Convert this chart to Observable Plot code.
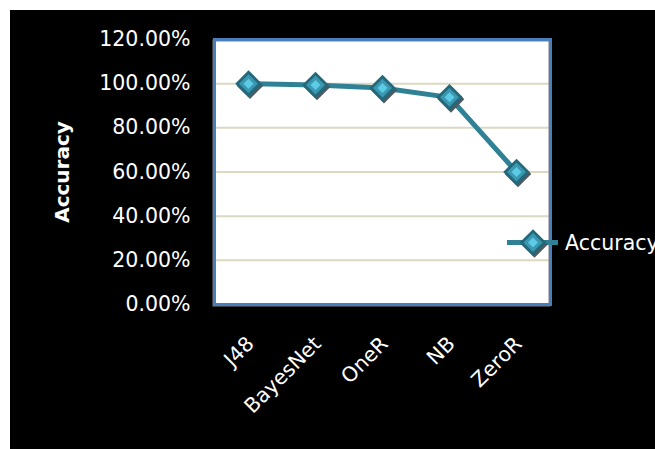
<!DOCTYPE html>
<html>
<head>
<meta charset="utf-8">
<script src="https://cdn.jsdelivr.net/npm/d3@7"></script>
<script src="https://cdn.jsdelivr.net/npm/@observablehq/plot@0.6"></script>
<style>
  html, body { margin: 0; padding: 0; background: #ffffff; }
  #chart { position: absolute; left: 10px; top: 10px; }
</style>
</head>
<body>
<div id="chart"></div>
<script>
// Classifier accuracy by model
const models = ["J48", "BayesNet", "OneR", "NB", "ZeroR"];
const accuracy = [1.0, 0.994, 0.98, 0.938, 0.60];
const yTicks = [0, 0.2, 0.4, 0.6, 0.8, 1.0, 1.2];
const gridTicks = [0.2, 0.4, 0.6, 0.8, 1.0];
const seriesName = "Accuracy";

const data = models.map((m, i) => ({model: m, value: accuracy[i]}));

const W = 645, H = 439;
const mL = 204, mR = 105, mT = 29, mB = 145;

const lineColor = "#2f8196";
const markerDark = "#23687b";
const markerMid = "#3b98b1";
const markerLight = "#5dcbe6";
const shadow = "#4d5a60";

const plot = Plot.plot({
  width: W,
  height: H,
  marginLeft: mL,
  marginRight: mR,
  marginTop: mT,
  marginBottom: mB,
  style: {background: "#000000", color: "#ffffff", fontFamily: "DejaVu Sans"},
  x: {type: "point", domain: models, padding: 0.5, axis: null},
  y: {domain: [0, 1.2], axis: null},
  marks: [
    Plot.frame({fill: "#ffffff"}),
    Plot.ruleY(gridTicks, {stroke: "#ddd8c0", strokeWidth: 2}),
    Plot.frame({stroke: "#7f7f7f", strokeWidth: 2, dx: -1, dy: 1}),
    Plot.frame({stroke: "#4a7ebb", strokeWidth: 3}),
    Plot.axisY(yTicks, {
      tickSize: 0, tickPadding: 24, fontSize: 20.5, fill: "#ffffff",
      tickFormat: d3.format(".2%"), label: null
    }),
    Plot.text([seriesName], {
      frameAnchor: "left", dx: -152, rotate: -90, textAnchor: "middle",
      fontWeight: "bold", fontSize: 20, fill: "#ffffff"
    }),
    Plot.text(models, {
      x: d => d, frameAnchor: "bottom", dy: 36, dx: 2, rotate: -45,
      textAnchor: "end", lineAnchor: "middle", fontSize: 20.5, fill: "#ffffff"
    }),
    Plot.line(data, {x: "model", y: "value", stroke: lineColor, strokeWidth: 5}),
    Plot.dot(data, {x: "model", y: "value", symbol: "diamond2", r: 12, fill: shadow, dx: 1.5, dy: 2}),
    Plot.dot(data, {x: "model", y: "value", symbol: "diamond2", r: 12, fill: markerDark}),
    Plot.dot(data, {x: "model", y: "value", symbol: "diamond2", r: 8.5, fill: markerMid}),
    Plot.dot(data, {x: "model", y: "value", symbol: "diamond2", r: 4.5, fill: markerLight})
  ]
});

// Legend entry: line sample with marker, then series name
const svg = d3.select(plot);
const fx = W - mR - 17;
const fy = (mT + (H - mB)) / 2 + 71;
const lg = svg.append("g").attr("transform", `translate(${fx},${fy})`);
lg.append("line").attr("x1", -26).attr("x2", 25).attr("y1", 0).attr("y2", 0)
  .attr("stroke", lineColor).attr("stroke-width", 5);
const sym = s => d3.symbol(d3.symbolDiamond2, s * s * Math.PI)();
lg.append("path").attr("d", sym(12)).attr("fill", shadow).attr("transform", "translate(1.5,2)");
lg.append("path").attr("d", sym(12)).attr("fill", markerDark);
lg.append("path").attr("d", sym(8.5)).attr("fill", markerMid);
lg.append("path").attr("d", sym(4.5)).attr("fill", markerLight);
lg.append("text").attr("x", 32).attr("y", 0).attr("dy", "0.35em")
  .attr("text-anchor", "start")
  .attr("fill", "#ffffff").attr("font-size", 20.5).text(seriesName);

document.getElementById("chart").appendChild(plot);
</script>
</body>
</html>
